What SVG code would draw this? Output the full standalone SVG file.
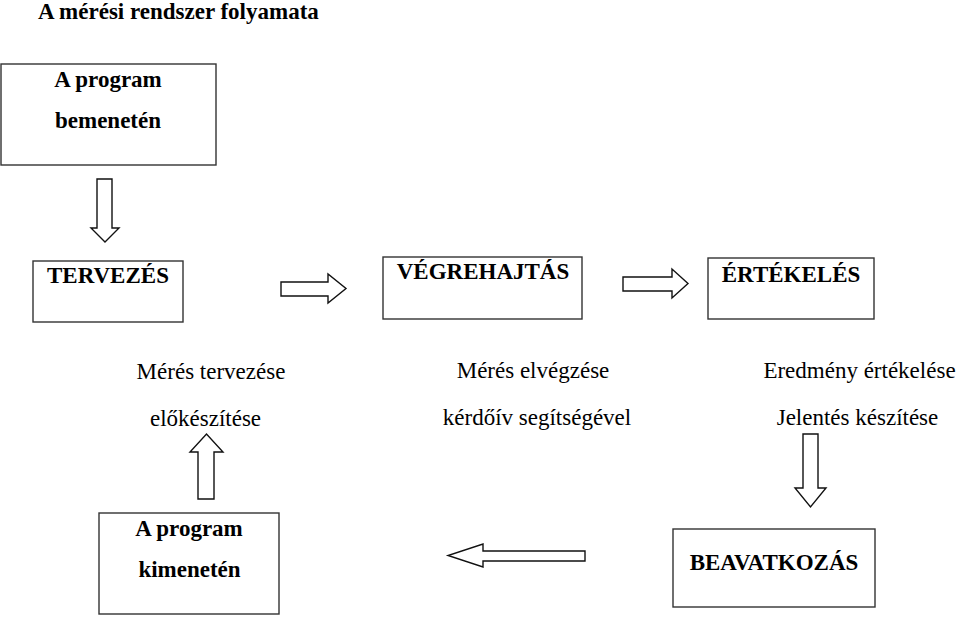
<svg xmlns="http://www.w3.org/2000/svg" width="959" height="617" viewBox="0 0 959 617">
<style>
.box{fill:#fff;stroke:#333;stroke-width:1.4}
.arr{fill:#fff;stroke:#111;stroke-width:1.4;stroke-linejoin:miter}
text{font-family:'Liberation Serif','Tinos','Times New Roman','DejaVu Serif',serif;font-size:23px;fill:#000}
.b{font-weight:bold}
.m{text-anchor:middle}
</style>
<rect width="959" height="617" fill="#fff"/>
<text class="b" x="38" y="19" font-family="Liberation Serif, serif">A mérési rendszer folyamata</text>
<g id="n-bemenet">
<rect class="box" x="1" y="64" width="215" height="101"/>
<text class="b m" x="108" y="87">A program</text>
<text class="b m" x="108" y="128">bemenetén</text>
</g>
<g id="n-tervezes">
<rect class="box" x="33" y="261" width="150" height="61"/>
<text class="b m" x="108" y="283">TERVEZÉS</text>
</g>
<g id="n-vegrehajtas">
<rect class="box" x="383" y="257" width="199" height="62"/>
<text class="b m" x="483" y="279">VÉGREHAJTÁS</text>
</g>
<g id="n-ertekeles">
<rect class="box" x="708" y="258" width="166" height="61"/>
<text class="b m" x="791" y="282">ÉRTÉKELÉS</text>
</g>
<g id="n-kimenet">
<rect class="box" x="99" y="513" width="180" height="101"/>
<text class="b m" x="189" y="536">A program</text>
<text class="b m" x="189.5" y="577">kimenetén</text>
</g>
<g id="n-beavatkozas">
<rect class="box" x="673" y="529" width="202" height="78"/>
<text class="b m" x="774" y="570">BEAVATKOZÁS</text>
</g>
<g id="n-tervezes-desc">
<text class="m" x="211" y="379">Mérés tervezése</text>
<text class="m" x="205.5" y="426">előkészítése</text>
</g>
<g id="n-vegrehajtas-desc">
<text class="m" x="533" y="378">Mérés elvégzése</text>
<text class="m" x="537" y="425">kérdőív segítségével</text>
</g>
<g id="n-ertekeles-desc">
<text class="m" x="859.5" y="378">Eredmény értékelése</text>
<text class="m" x="857.5" y="425">Jelentés készítése</text>
</g>
<g id="connectors">
<polygon class="arr" points="97,179 112,179 112,228 119,228 105,242 91,228 97,228"/>
<polygon class="arr" points="281,282 328,282 328,274 346,288.5 328,303 328,296 281,296"/>
<polygon class="arr" points="623,277 672,277 672,269 688,283.5 672,298 672,291 623,291"/>
<polygon class="arr" points="803,434 818,434 818,488 826,488 810.5,507 795,488 803,488"/>
<polygon class="arr" points="585,551 483,551 483,544 448,555.5 483,567 483,561 585,561"/>
<polygon class="arr" points="198,499 198,452 190,452 206.5,434 223,452 214,452 214,499"/>
</g>
</svg>
